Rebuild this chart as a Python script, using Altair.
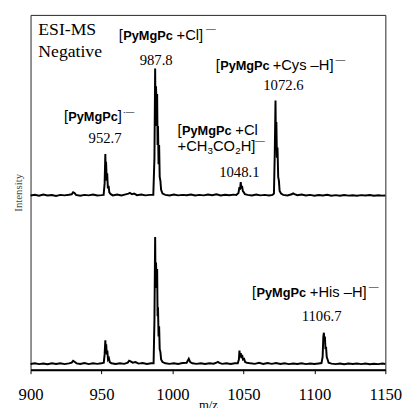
import altair as alt
import pandas as pd

# ---------------- data (m/z, relative intensity %) ----------------
# upper trace: [PyMgPc + Cys - H]-
cys_mz = [900, 903, 906, 909, 912, 915, 918, 921, 924, 927, 929, 930, 931, 932, 935, 938, 941, 944, 947, 950,
          951.5, 952.2, 952.7, 953.0, 953.2, 953.7, 954.0, 954.5, 955, 955.5, 956.5, 958, 961, 964, 967, 969, 970,
          971.5, 973, 975, 978, 981, 984, 986.5, 987.3, 987.8, 988.1, 988.4, 988.8, 989.2, 989.5, 989.8, 990.2,
          990.6, 991.0, 991.5, 992, 993, 995, 998, 1001, 1004, 1007, 1010, 1013, 1016, 1019, 1022, 1025, 1028,
          1031, 1034, 1037, 1040, 1043, 1045, 1046.5, 1047.2, 1047.6, 1048.1, 1048.5, 1049, 1049.6, 1050.3, 1051,
          1053, 1056, 1059, 1062, 1065, 1068, 1070.5, 1071.5, 1072.1, 1072.6, 1072.9, 1073.2, 1073.6, 1074, 1074.5,
          1075, 1075.5, 1076.5, 1078, 1081, 1084, 1085, 1086, 1088, 1091, 1094, 1097, 1100, 1103, 1106, 1109,
          1112, 1115, 1118, 1121, 1124, 1127, 1130, 1133, 1136, 1139, 1142, 1145, 1148, 1150]
cys_int = [0.5, 1, 0.3, 1.2, 0.5, 0.9, 0.2, 1, 0.6, 1.1, 1.5, 3, 2.5, 1, 0.4, 1, 0.6, 1.3, 0.5, 0.8,
           1, 10, 33, 15, 27, 12, 18, 6, 8, 3, 1.5, 0.6, 1.2, 0.5, 1.4, 2, 2.5,
           1.5, 2, 0.8, 1.2, 0.6, 1, 1, 30, 100, 55, 86, 70, 80, 40, 55, 25,
           40, 15, 12, 5, 2, 1, 0.5, 1.2, 0.6, 1, 0.7, 1.3, 0.5, 1, 0.6, 1.2, 0.7,
           1.4, 0.6, 1.1, 0.7, 1.2, 1, 2.5, 7, 5, 11, 6, 8, 4, 3, 1.5,
           1, 0.5, 1.3, 0.6, 1, 0.5, 1, 2, 35, 75, 40, 58, 30, 38, 15,
           12, 4, 2, 1, 0.6, 1.5, 2.2, 1.6, 0.8, 1.2, 0.5, 1, 0.4, 0.9, 0.5, 1.1,
           0.4, 0.8, 0.3, 0.9, 0.4, 0.7, 0.3, 0.8, 0.5, 0.9, 0.3, 0.7, 0.4, 0.5]

# lower trace: [PyMgPc + His - H]-
his_mz = [900, 903, 906, 909, 912, 915, 918, 921, 924, 927, 929, 930, 931, 932.5, 935, 938, 941, 944, 947, 950,
          951.6, 952.2, 952.7, 953.0, 953.3, 953.7, 954.1, 954.6, 955.2, 955.8, 957, 960, 963, 966, 968.5, 969.5,
          970.5, 972, 974, 976, 979, 982, 985, 986.7, 987.3, 987.8, 988.1, 988.4, 988.8, 989.2, 989.5, 989.8,
          990.2, 990.6, 991.0, 991.5, 992, 993, 995, 998, 1001, 1004, 1007, 1010, 1011.5, 1012.5, 1014, 1017,
          1020, 1023, 1026, 1029, 1031, 1032, 1033, 1035, 1038, 1041, 1044, 1046, 1046.8, 1047.2, 1047.6, 1048.1,
          1048.6, 1049.1, 1049.7, 1050.5, 1051.2, 1052.5, 1055, 1058, 1061, 1064, 1067, 1070, 1073, 1076, 1079,
          1082, 1085, 1088, 1091, 1094, 1097, 1100, 1103, 1105, 1105.8, 1106.3, 1106.7, 1107.0, 1107.4, 1107.8,
          1108.2, 1108.7, 1109.3, 1110, 1112, 1115, 1118, 1121, 1124, 1127, 1130, 1133, 1136, 1139, 1142, 1145,
          1148, 1150]
his_int = [0.5, 1.1, 0.4, 0.9, 0.3, 1, 0.5, 1.1, 0.4, 1, 1.6, 3, 2.2, 1, 0.5, 1.2, 0.4, 1, 0.6, 1,
           1.5, 8, 19, 10, 16, 8, 11, 4, 5, 2, 1, 0.5, 1.1, 0.6, 1.5, 3,
           2.5, 1.5, 2, 0.8, 1.2, 0.5, 1, 1, 35, 100, 60, 80, 66, 75, 38, 45,
           22, 30, 12, 10, 4, 2, 1, 0.6, 1.1, 0.5, 1.2, 1.5, 4.6, 2, 1, 0.6,
           1.1, 0.5, 1, 0.7, 1.5, 2.2, 1.4, 0.6, 1, 0.5, 1.1, 1, 4, 11, 6, 9,
           5, 7.5, 4, 4.5, 2, 1.5, 1, 0.6, 1.4, 0.5, 1.2, 0.6, 1.3, 0.5, 1,
           0.4, 0.9, 0.5, 1, 0.4, 0.8, 0.5, 0.9, 1.2, 6, 22, 25, 18, 22, 12,
           14, 6, 4, 1.5, 0.8, 0.4, 0.9, 0.3, 0.8, 0.5, 0.9, 0.4, 0.8, 0.3, 0.7, 0.4,
           0.8, 0.5]

CYS_OFFSET = 132          # vertical stacking offset of the upper trace
x_ticks = [900, 950, 1000, 1050, 1100, 1150]

spectra = pd.DataFrame({
    "mz": cys_mz + his_mz,
    "y": [v + CYS_OFFSET for v in cys_int] + his_int,
    "series": ["Cys"] * len(cys_mz) + ["His"] * len(his_mz),
})

# ---------------- annotations (anchored in m/z, intensity units) ----------------
serif_left = pd.DataFrame({
    "mz": [905.5, 905.5],
    "y": [257.9, 241.0],
    "text": ["ESI-MS", "Negative"],
})
serif_center = pd.DataFrame({
    "mz": [988.5, 952.5, 1047.1, 1078.2, 1105.1],
    "y": [234.8, 173.4, 147.3, 214.9, 34.4],
    "text": ["987.8", "952.7", "1048.1", "1072.6", "1106.7"],
})
sans_bold = pd.DataFrame({
    "mz": [965.3, 926.6, 1006.7, 1033.6, 1059.2],
    "y": [254.0, 191.1, 180.3, 231.0, 52.8],
    "text": ["PyMgPc"] * 5,
})
sans_reg = pd.DataFrame({
    "mz": [962.2, 1002.9, 1023.6,
           923.5, 961.5, 964.9,
           1003.6, 1044.3, 1003.6, 1024.6, 1028.5, 1044.3, 1048.1, 1058.2,
           1030.5, 1070.6, 1114.8,
           1056.1, 1096.8, 1138.3],
    "y": [254.0, 254.0, 260.9,
          191.1, 191.1, 195.4,
          180.3, 180.3, 167.3, 164.9, 167.3, 164.9, 167.3, 172.6,
          231.0, 231.0, 236.4,
          52.8, 52.8, 58.2],
    "text": ["[", "+Cl]", "—",
             "[", "]", "·—",
             "[", "+Cl", "+CH", "3", "CO", "2", "H]", "—",
             "[", "+Cys –H]", "—",
             "[", "+His –H]", "—"],
    "fs": [15, 15, 10,
           15, 15, 9,
           15, 15, 15, 10, 15, 10, 15, 10,
           15, 15, 10,
           15, 15, 10],
})

W, H = 362, 362
SERIF = "Liberation Serif"
SANS = "Liberation Sans"

xscale = alt.Scale(domain=[900, 1150], nice=False, zero=False)
yscale = alt.Scale(domain=[-4, 274], nice=False, zero=False)

xaxis = alt.Axis(values=x_ticks, title="m/z", grid=False, format="d",
                 labelFont=SERIF, labelFontSize=17, labelColor="black", labelPadding=13,
                 labelFlush=False, labelOverlap=False,
                 tickSize=4, tickColor="black", tickWidth=1,
                 domainColor="black", domainWidth=2,
                 titleFont=SERIF, titleFontSize=13, titleFontWeight="normal",
                 titleColor="black", titlePadding=-3)
yaxis = alt.Axis(title="Intensity", grid=False, domain=False, ticks=False, labels=False,
                 titleFont=SERIF, titleFontSize=11, titleFontWeight="normal",
                 titleColor="#444", titlePadding=7)

lines = alt.Chart(spectra).mark_line(color="black", strokeWidth=2).encode(
    x=alt.X("mz:Q", scale=xscale, axis=xaxis),
    y=alt.Y("y:Q", scale=yscale, axis=yaxis),
    detail="series:N",
)

def txt(df, font, weight="normal", align="left", size=None):
    kw = dict(font=font, fontWeight=weight, align=align, baseline="alphabetic", color="black")
    if size is not None:
        kw["fontSize"] = size
    enc = dict(x=alt.X("mz:Q", scale=xscale), y=alt.Y("y:Q", scale=yscale), text="text:N")
    if "fs" in df.columns:
        enc["size"] = alt.Size("fs:Q", scale=None, legend=None)
    return alt.Chart(df).mark_text(**kw).encode(**enc)

chart = alt.layer(
    lines,
    txt(serif_left, SERIF, size=18),
    txt(serif_center, SERIF, align="center", size=15),
    txt(sans_bold, SANS, weight="bold", size=13),
    txt(sans_reg, SANS),
).properties(
    width=W, height=H,
    autosize=alt.AutoSizeParams(type="none"),
    padding={"left": 23, "top": 3, "right": 18, "bottom": 35},
).configure_view(stroke="#222", strokeWidth=1)

chart.save("out.html", embed_options={"renderer": "svg", "actions": False})
